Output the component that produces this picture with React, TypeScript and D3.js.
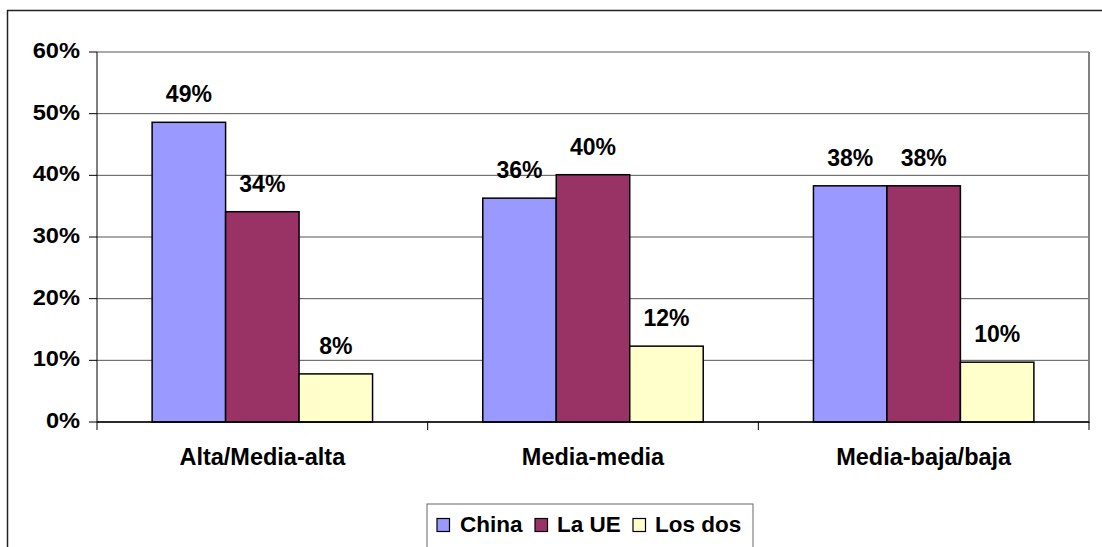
import React from "react";
import * as d3 from "d3";

const categories = ["Alta/Media-alta", "Media-media", "Media-baja/baja"];
const seriesNames = ["China", "La UE", "Los dos"];
const seriesColors = ["#9999FF", "#993366", "#FFFFCC"];
const chinaValues = [48.6, 36.3, 38.3];
const ueValues = [34.1, 40.1, 38.3];
const losDosValues = [7.8, 12.3, 9.7];
const valueLabels = [["49%", "34%", "8%"], ["36%", "40%", "12%"], ["38%", "38%", "10%"]];
const yTicks = [0, 10, 20, 30, 40, 50, 60];

const W = 1102;
const H = 547;
const left = 97;
const right = 1089;
const top = 52;
const bottom = 422;
const FONT = "Arial, 'Liberation Sans', sans-serif";

function T({ x, y, anchor, size, sx = 1, children }: any) {
  return (
    <text
      transform={`translate(${x},${y}) scale(${sx},1)`}
      textAnchor={anchor}
      fontFamily={FONT}
      fontWeight="bold"
      fontSize={size}
      fill="#000"
    >
      {children}
    </text>
  );
}

export default function App() {
  const series = [chinaValues, ueValues, losDosValues];
  const x0 = d3.scaleBand<string>().domain(categories).range([left, right]).padding(0);
  const x1 = d3
    .scaleBand<string>()
    .domain(seriesNames)
    .range([0, x0.bandwidth()])
    .paddingInner(0)
    .paddingOuter(0.75);
  const y = d3.scaleLinear().domain([0, 60]).range([bottom, top]);

  return (
    <div style={{ position: "fixed", left: 0, top: 0 }}>
      <svg width={W} height={H} style={{ display: "block", background: "#fff" }}>
        {/* outer chart border */}
        <path d={`M7.5,${H + 5} V10.5 H${W + 5}`} fill="none" stroke="#222" strokeWidth={1.5} />
        {/* gridlines */}
        {yTicks.map((t) => (
          <line key={t} x1={left} x2={right} y1={y(t)} y2={y(t)} stroke="#555" strokeWidth={1} />
        ))}
        {/* plot area right border */}
        <line x1={right} x2={right} y1={top} y2={bottom + 1} stroke="#808080" strokeWidth={2} />
        {/* bars */}
        {categories.map((c, ci) => (
          <g key={c}>
            {seriesNames.map((s, si) => {
              const v = series[si][ci];
              const bx = (x0(c) as number) + (x1(s) as number);
              const bw = x1.bandwidth();
              return (
                <g key={s}>
                  <rect
                    x={bx}
                    y={y(v)}
                    width={bw}
                    height={y(0) - y(v)}
                    fill={seriesColors[si]}
                    stroke="#000"
                    strokeWidth={1.5}
                  />
                  <T x={bx + bw / 2} y={y(v) - 20} anchor="middle" size={23}>
                    {valueLabels[ci][si]}
                  </T>
                </g>
              );
            })}
          </g>
        ))}
        {/* y axis */}
        <line x1={left} x2={left} y1={top} y2={bottom} stroke="#000" strokeWidth={1} />
        {yTicks.map((t) => (
          <g key={"yt" + t}>
            <line x1={left - 8} x2={left} y1={y(t)} y2={y(t)} stroke="#000" strokeWidth={1} />
            <T x={80} y={y(t) + 6} anchor="end" size={22.5} sx={1.05}>
              {t + "%"}
            </T>
          </g>
        ))}
        {/* x axis */}
        <line x1={left} x2={right} y1={bottom} y2={bottom} stroke="#000" strokeWidth={1.5} />
        {[...categories.map((c) => x0(c) as number), right].map((px, i) => (
          <line key={"xt" + i} x1={px} x2={px} y1={bottom} y2={bottom + 8} stroke="#000" strokeWidth={1} />
        ))}
        {categories.map((c) => (
          <T key={"cl" + c} x={(x0(c) as number) + x0.bandwidth() / 2} y={465} anchor="middle" size={23.5}>
            {c}
          </T>
        ))}
        {/* legend */}
        <rect x={427} y={504} width={326} height={60} fill="#fff" stroke="#666" strokeWidth={1} />
        {seriesNames.map((s, i) => {
          const lx = [437, 535, 633][i];
          const tx = [460, 557, 655][i];
          return (
            <g key={"lg" + s}>
              <rect x={lx} y={518.5} width={12.5} height={13} fill={seriesColors[i]} stroke="#000" strokeWidth={1.2} />
              <T x={tx} y={532} anchor="start" size={22.5}>
                {s}
              </T>
            </g>
          );
        })}
      </svg>
    </div>
  );
}
